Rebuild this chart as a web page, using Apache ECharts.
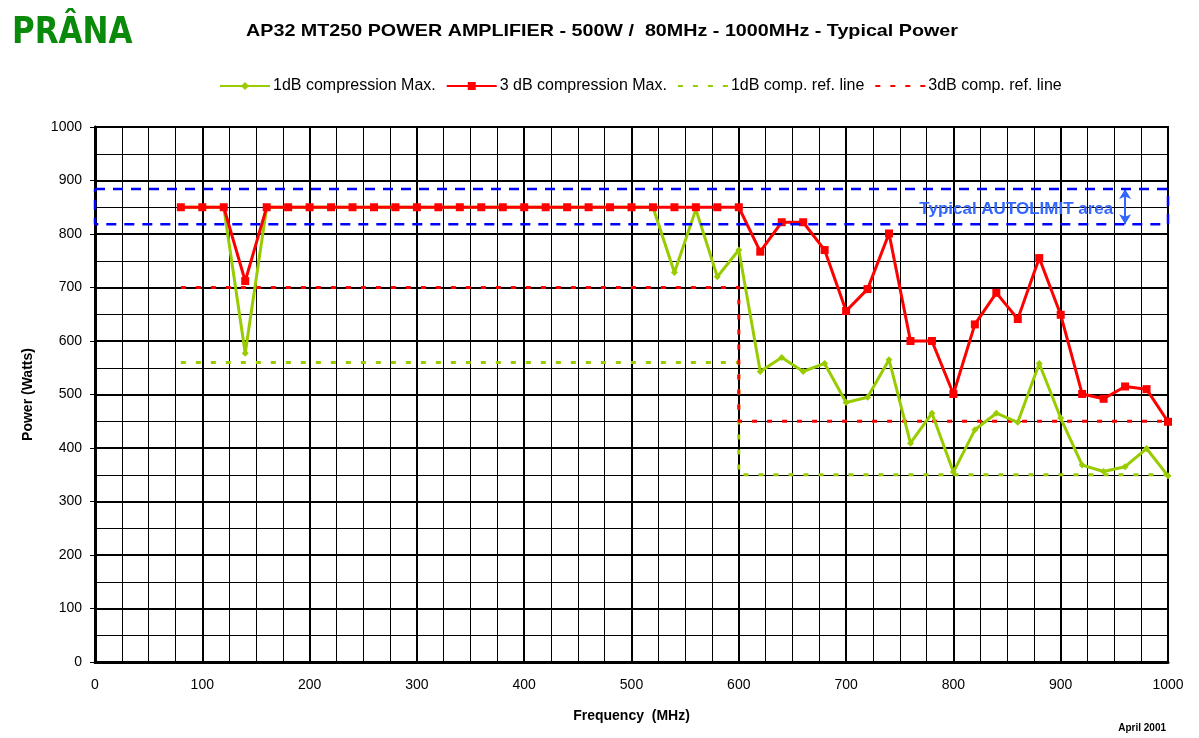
<!DOCTYPE html>
<html>
<head>
<meta charset="utf-8">
<script src="https://cdn.jsdelivr.net/npm/echarts@6/dist/echarts.min.js"></script>
<style>
html,body{margin:0;padding:0;background:#fff;}
#chart{width:1199px;height:738px;}
</style>
</head>
<body>
<div id="chart"></div>
<script>
// ---- Data ----
const frequencies = [80,100,120,140,160,180,200,220,240,260,280,300,320,340,360,380,400,420,440,460,480,500,520,540,560,580,600,620,640,660,680,700,720,740,760,780,800,820,840,860,880,900,920,940,960,980,1000];
const comp1dB = [850,850,850,577,850,850,850,850,850,850,850,850,850,850,850,850,850,850,850,850,850,850,850,728,846,720,770,543,569,543,558,485,495,565,409,465,355,434,465,448,558,456,368,356,365,399,348];
const comp3dB = [850,850,850,712,850,850,850,850,850,850,850,850,850,850,850,850,850,850,850,850,850,850,850,850,850,850,850,767,822,822,770,656,697,801,600,600,501,631,690,641,755,649,501,492,515,510,449];
const refFreq = [80,600,600,1000];
const ref1dB = [560,560,350,350];
const ref3dB = [700,700,450,450];
const autoLimitFreq = [0,1000,1000,0,0];
const autoLimitPower = [884,884,818,818,884];
const autoLimitArrow = {freq:960, low:818, high:884};
const autoLimitLabel = {freq:949, power:847, text:'Typical AUTOLIMIT area'};
const xTicks = [0,100,200,300,400,500,600,700,800,900,1000];
const yTicks = [0,100,200,300,400,500,600,700,800,900,1000];

const zip = (xs, ys) => xs.map((x, i) => [x, ys[i]]);
const GREEN = '#99cc00', RED = '#ff0000', BLUE = '#0000ff';
const tickFont = "'Liberation Sans',Arial,sans-serif";

const chart = echarts.init(document.getElementById('chart'));
chart.setOption({
  animation: false,
  backgroundColor: '#ffffff',
  graphic: [
    {type:'text', left: 12, top: 15, scaleY: 1.2,
     style:{text:'PRÂNA', fill:'#0a8a0a', font:"900 31px 'DejaVu Sans',sans-serif"}},
    {type:'text', x: 602, y: 31, scaleX: 1.16,
     style:{text:'AP32 MT250 POWER AMPLIFIER - 500W /  80MHz - 1000MHz - Typical Power',
       textAlign:'center', textVerticalAlign:'middle', fill:'#000',
       font:"bold 17px 'Liberation Sans',Arial,sans-serif"}},
    {type:'text', right: 33, top: 723,
     style:{text:'April 2001', fill:'#000', font:"bold 10px 'Liberation Sans',Arial,sans-serif"}}
  ],
  legend: {
    top: 73, left: 214,
    itemWidth: 50, itemHeight: 10, itemGap: 10,
    textStyle: {fontSize: 16, color: '#000', fontFamily: tickFont, padding:[0,0,0,-2]},
    data: [
      {name: '1dB compression Max.'},
      {name: '3 dB compression Max.'},
      {name: '1dB comp. ref. line', itemStyle: {opacity: 0}},
      {name: '3dB comp. ref. line', itemStyle: {opacity: 0}}
    ]
  },
  grid: {left: 95, right: 31, top: 127, bottom: 76, show: true, borderColor: '#000', borderWidth: 2},
  xAxis: {
    type: 'value', min: 0, max: 1000, interval: 100,
    name: 'Frequency  (MHz)', nameLocation: 'middle', nameGap: 47,
    nameTextStyle: {fontSize: 14, fontWeight: 'bold', color: '#000', fontFamily: tickFont},
    axisLine: {show: true, lineStyle: {color: '#000', width: 3}},
    axisTick: {show: false},
    axisLabel: {color: '#000', fontSize: 14, margin: 16, fontFamily: tickFont,
      formatter: v => xTicks.includes(v) ? String(v) : ''},
    splitLine: {show: true, lineStyle: {color: '#000', width: 2}},
    minorTick: {show: false, splitNumber: 4},
    minorSplitLine: {show: true, lineStyle: {color: '#000', width: 1}}
  },
  yAxis: {
    type: 'value', min: 0, max: 1000, interval: 100,
    name: 'Power (Watts)', nameLocation: 'middle', nameGap: 60, nameRotate: 90,
    nameTextStyle: {fontSize: 14, fontWeight: 'bold', color: '#000', fontFamily: tickFont},
    axisLine: {show: true, lineStyle: {color: '#000', width: 3}},
    axisTick: {show: true, length: 5, lineStyle: {color: '#000'}},
    axisLabel: {color: '#000', fontSize: 14, margin: 13, fontFamily: tickFont,
      formatter: v => yTicks.includes(v) ? String(v) : ''},
    splitLine: {show: true, lineStyle: {color: '#000', width: 2}},
    minorTick: {show: false, splitNumber: 2},
    minorSplitLine: {show: true, lineStyle: {color: '#000', width: 1}}
  },
  series: [
    {
      name: 'AUTOLIMIT', type: 'line', data: zip(autoLimitFreq, autoLimitPower),
      symbol: 'none', silent: true, z: 6,
      lineStyle: {color: BLUE, width: 2.5, type: [10, 8]},
      markLine: {
        silent: true, symbol: ['arrow', 'arrow'], symbolSize: [9, 10],
        lineStyle: {color: '#3366ff', width: 2, type: 'solid'},
        label: {show: false},
        data: [[{coord: [autoLimitArrow.freq, autoLimitArrow.high]}, {coord: [autoLimitArrow.freq, autoLimitArrow.low]}]]
      },
      markPoint: {
        silent: true, symbol: 'circle', symbolSize: 0,
        data: [{coord: [autoLimitLabel.freq, autoLimitLabel.power],
          label: {show: true, position: 'left', distance: 0, formatter: autoLimitLabel.text,
            color: '#3366ff', fontSize: 17, fontWeight: 'bold', fontFamily: "'Liberation Sans',Arial,sans-serif"}}]
      }
    },
    {
      name: '1dB compression Max.', type: 'line', data: zip(frequencies, comp1dB),
      symbol: 'diamond', symbolSize: 7, z: 4,
      itemStyle: {color: GREEN}, lineStyle: {color: GREEN, width: 3}
    },
    {
      name: '3 dB compression Max.', type: 'line', data: zip(frequencies, comp3dB),
      symbol: 'rect', symbolSize: 8, z: 5,
      itemStyle: {color: RED}, lineStyle: {color: RED, width: 3}
    },
    {
      name: '1dB comp. ref. line', type: 'line', data: zip(refFreq, ref1dB),
      symbol: 'none', z: 2,
      itemStyle: {color: GREEN}, lineStyle: {color: GREEN, width: 3, type: [5, 10]}
    },
    {
      name: '3dB comp. ref. line', type: 'line', data: zip(refFreq, ref3dB),
      symbol: 'none', z: 3,
      itemStyle: {color: RED}, lineStyle: {color: RED, width: 3, type: [5, 10]}
    }
  ]
});
</script>
</body>
</html>
